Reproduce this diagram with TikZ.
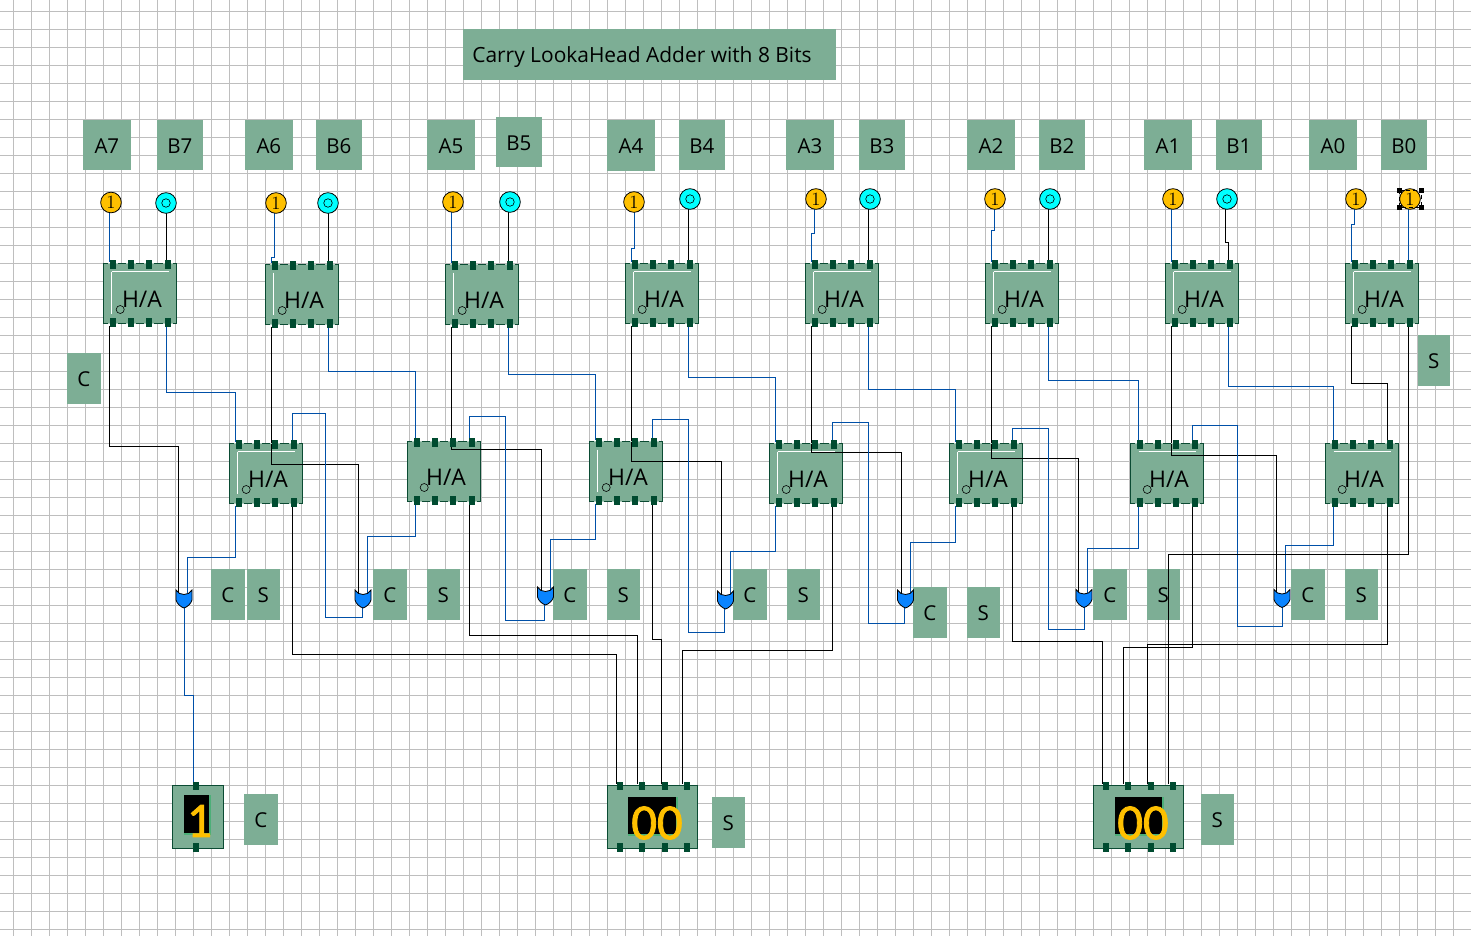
\documentclass[tikz,border=0pt]{standalone}
\usepackage{fontspec}
\newfontfamily\uifont{Open Sans}
\newfontfamily\digitfont[FakeBold=1.6]{Carlito}
\pgfdeclarelayer{bg}\pgfdeclarelayer{box}\pgfdeclarelayer{front}
\pgfsetlayers{bg,box,main,front}
\definecolor{boxgreen}{HTML}{7DAE95}
\definecolor{edgegreen}{HTML}{0B4B33}
\definecolor{pingreen}{HTML}{004B30}
\definecolor{wireblue}{HTML}{0050A8}
\definecolor{gridgrey}{HTML}{BEBEBE}
\definecolor{amber}{HTML}{FFC000}
\definecolor{aqua}{HTML}{00FFFF}
\definecolor{gateblue}{HTML}{0A84FF}
\definecolor{scrgreen}{HTML}{4CAF78}
\tikzset{
  kw/.style={draw=black,line width=0.9pt,line join=miter},
  bw/.style={draw=wireblue,line width=0.9pt,line join=miter},
  pinbox/.style={fill=pingreen,draw=none},
  inA/.style={circle,draw=black,fill=amber,line width=0.6pt,minimum size=15.5pt,inner sep=0pt,font=\fontsize{14pt}{14pt}\selectfont},
  inB/.style={circle,draw=black,fill=aqua,line width=0.6pt,minimum size=15.5pt,inner sep=0pt},
  lblbox/.style={fill=boxgreen,inner sep=0pt},
  lbltxt/.style={inner sep=0pt,text=black,font=\uifont\fontsize{15.4pt}{16pt}\selectfont},
}
% half adder: name, x, y, left white line, top white line, offset of left wire
\newcommand{\hadd}[6]{%
 \begin{pgfonlayer}{box}
  \node[draw=edgegreen,fill=boxgreen,line width=0.7pt,minimum width=54.75pt,minimum height=45pt,inner sep=0pt] (#1) at ({#2+36.5},{#3+30}) {};
  \ifnum#4=1 \draw[white,line width=0.7pt] ({#2+8},{#3+8}) -- ({#2+8},{#3+50});\fi
  \ifnum#5=1 \draw[white,line width=0.7pt] ({#2+8},{#3+8}) -- ({#2+65},{#3+8});\fi
  \node[font=\uifont\fontsize{17.2pt}{18pt}\selectfont,text=black,inner sep=0pt] (#1-txt) at ({#2+38.5},{#3+36}) {H/A};
  \draw[black,line width=0.45pt] ({#2+16.7},{#3+46}) circle[radius=3pt];
 \end{pgfonlayer}
 \begin{pgfonlayer}{front}
  \foreach \d in {6,24,42,61}{
   \fill[boxgreen!60!white] ({#2+\d-2},{#3-0.7}) rectangle ++(10.5,1.4);
   \fill[boxgreen!60!white] ({#2+\d-2},{#3+59.3}) rectangle ++(10.5,1.4);
   \fill[pinbox] ({#2+\d},{#3-3.5}) rectangle ++(6.5,9);
   \fill[pinbox] ({#2+\d},{#3+54.5}) rectangle ++(6.5,9);
  }
 \end{pgfonlayer}
 \coordinate (#1-t1) at ({#2+#6},{#3-2});
 \coordinate (#1-t4) at ({#2+63},{#3-2});
 \coordinate (#1-b1) at ({#2+#6},{#3+62});
 \coordinate (#1-b4) at ({#2+63},{#3+62});
}
% OR gate: name, centre x, top y, input 1 x, input 2 x, output x
\newcommand{\orgate}[6]{%
 \begin{pgfonlayer}{front}
  \filldraw[fill=gateblue,draw=black,line width=0.6pt]
   ({#2-8},{#3}) .. controls ({#2-5},{#3+6}) and ({#2+5},{#3+6}) .. ({#2+8},{#3})
   -- ({#2+8},{#3+10}) .. controls ({#2+7},{#3+14}) and ({#2+3},{#3+17}) .. ({#2},{#3+18})
   .. controls ({#2-3},{#3+17}) and ({#2-7},{#3+14}) .. ({#2-8},{#3+10}) -- cycle;
 \end{pgfonlayer}
 \coordinate (#1-i1) at (#4,{#3+3});
 \coordinate (#1-i2) at (#5,{#3+3});
 \coordinate (#1-o) at (#6,{#3+17});
}
% display body: name, x1, y1, x2, y2
\newcommand{\dispbody}[5]{%
 \begin{pgfonlayer}{box}
  \node[draw=edgegreen,fill=boxgreen,line width=0.7pt,inner sep=0pt,minimum width={(#4-#2)*0.75pt},minimum height={(#5-#3)*0.75pt}] (#1) at ({(#2+#4)/2},{(#3+#5)/2}) {};
 \end{pgfonlayer}
}
\newcommand{\screen}[4]{%
 \begin{pgfonlayer}{box}
  \fill[scrgreen] (#1,#2) rectangle ({#3+2},{#4+2});
  \fill[black] (#1,#2) rectangle (#3,#4);
 \end{pgfonlayer}
}
\newcommand{\dpin}[3]{\begin{pgfonlayer}{front}\fill[pinbox] ({#1-3},#2) rectangle ({#1+3},#3);\end{pgfonlayer}}
% rectangular text label: name, x1, y1, x2, y2, text
\newcommand{\lab}[6]{%
 \begin{pgfonlayer}{bg}
  \node[lblbox,minimum width={(#4-#2)*0.75pt},minimum height={(#5-#3)*0.75pt}] (#1) at ({(#2+#4)/2},{(#3+#5)/2}) {};
  \node[lbltxt] (#1-txt) at ([xshift=-0.1pt,yshift=-0.6pt]#1.center) {#6};
 \end{pgfonlayer}
}
% vertical, horizontal at y, vertical
\newcommand{\zw}[4]{\draw[#1] (#2) -- (#2 |- 0,#3) -- (#4 |- 0,#3) -- (#4);}
% same, starting below an input node at a given x
\newcommand{\jw}[5]{\draw[#1] (#2 -| #3,0) -- (#3,#4) -- (#5 |- 0,#4) -- (#5);}
% input node: name, style, x, y, text
\newcommand{\inp}[5]{\begin{pgfonlayer}{front}\node[#2] (#1) at (#3,#4) {#5};\end{pgfonlayer}}
\newcommand{\ringmark}{\tikz\draw[black,line width=0.45pt] (0,0) circle[radius=3.2pt];}
\begin{document}
\begin{tikzpicture}[x=0.75pt,y=-0.75pt]
\useasboundingbox (0,0) rectangle (1471,936);
\begin{pgfonlayer}{bg}
 \fill[white] (0,0) rectangle (1471,936);
 \foreach \k in {0,...,81}{\draw[gridgrey,line width=0.85pt] ({13.5+18*\k},0) -- ({13.5+18*\k},936);}
 \foreach \k in {0,...,51}{\draw[gridgrey,line width=0.85pt] (0,{11.5+18*\k}) -- (1471,{11.5+18*\k});}
\end{pgfonlayer}
% title and labels
\begin{pgfonlayer}{bg}
 \node[lblbox,minimum width=279.75pt,minimum height=38.25pt] (title) at (649.5,54.5) {};
 \node[lbltxt,font=\uifont\fontsize{15.7pt}{16pt}\selectfont] (title-txt) at (642,57.5) {Carry LookaHead Adder with 8 Bits};
\end{pgfonlayer}
\lab{lA7}{83}{120}{131}{170}{A7}\lab{lB7}{157}{120}{203}{170}{B7}
\lab{lA6}{245}{120}{293}{170}{A6}\lab{lB6}{316}{120}{362}{170}{B6}
\lab{lA5}{427}{120}{475}{170}{A5}\lab{lB5}{496}{117}{542}{167}{B5}
\lab{lA4}{607}{120}{655}{171}{A4}\lab{lB4}{679}{120}{725}{170}{B4}
\lab{lA3}{786}{120}{834}{170}{A3}\lab{lB3}{859}{120}{905}{170}{B3}
\lab{lA2}{967}{120}{1015}{170}{A2}\lab{lB2}{1039}{120}{1085}{170}{B2}
\lab{lA1}{1144}{120}{1192}{170}{A1}\lab{lB1}{1216}{120}{1262}{170}{B1}
\lab{lA0}{1309}{120}{1357}{170}{A0}\lab{lB0}{1381}{120}{1427}{170}{B0}
\lab{cTop}{67}{353}{101}{404}{C}\lab{sTop}{1418}{335}{1450}{386}{S}
\lab{c7}{211}{569}{245}{620}{C}\lab{s7}{247}{569}{280}{620}{S}
\lab{c6}{373}{569}{407}{620}{C}\lab{s6}{427}{569}{460}{620}{S}
\lab{c5}{553}{569}{587}{620}{C}\lab{s5}{607}{569}{640}{620}{S}
\lab{c4}{733}{569}{767}{620}{C}\lab{s4}{787}{569}{820}{620}{S}
\lab{c3}{913}{587}{947}{638}{C}\lab{s3}{967}{587}{1000}{638}{S}
\lab{c2}{1093}{569}{1127}{620}{C}\lab{s2}{1147}{569}{1180}{620}{S}
\lab{c1}{1291}{569}{1325}{620}{C}\lab{s1}{1345}{569}{1378}{620}{S}
\lab{cOut}{244}{794}{278}{845}{C}\lab{sOutA}{712}{797}{745}{848}{S}\lab{sOutB}{1201}{794}{1234}{845}{S}
% half adders, top row
\hadd{h7}{103.5}{263.5}{1}{1}{6}
\hadd{h6}{265.5}{264.5}{1}{0}{6}
\hadd{h5}{445.5}{264.5}{1}{0}{6}
\hadd{h4}{625.5}{263.5}{1}{1}{6}
\hadd{h3}{805.5}{263.5}{1}{1}{6}
\hadd{h2}{985.5}{263.5}{1}{1}{6}
\hadd{h1}{1165.5}{263.5}{1}{1}{6}
\hadd{h0}{1345.5}{263.5}{1}{1}{6}
% half adders, lower row
\hadd{l7}{229.5}{443.5}{1}{1}{6}
\hadd{l6}{407.5}{441.5}{0}{0}{8}
\coordinate (l6-t4) at (469.5,439.5);\coordinate (l6-b4) at (469.5,503.5);
\hadd{l5}{589.5}{441.5}{1}{0}{6}
\hadd{l4}{769.5}{443.5}{1}{1}{6}
\hadd{l3}{949.5}{443.5}{1}{1}{6}
\hadd{l2}{1130.5}{443.5}{0}{1}{8}
\coordinate (l2-t4) at (1192.5,441.5);\coordinate (l2-b4) at (1192.5,505.5);
\hadd{l1}{1325.5}{443.5}{0}{1}{8}
\coordinate (l1-t4) at (1387.5,441.5);\coordinate (l1-b4) at (1387.5,505.5);
% gates
\orgate{g7}{184}{590}{178.5}{187.5}{184.5}
\orgate{g6}{363}{590}{358.5}{367.5}{362.5}
\orgate{g5}{545.5}{587}{541.5}{550.5}{544.5}
\orgate{g4}{725.5}{591}{721.5}{730.5}{724.5}
\orgate{g3}{905.5}{590}{901.5}{910.5}{904.5}
\orgate{g2}{1084}{589.5}{1078.5}{1087.5}{1084.5}
\orgate{g1}{1282}{589.5}{1276.5}{1285.5}{1282.5}
% displays
\dispbody{dc}{172.5}{785.5}{223.5}{848.5}
\screen{184}{795}{209}{833}
\dpin{195.7}{782}{790}\dpin{195.7}{843}{852}
\coordinate (dc-in) at (193.5,784);
\begin{pgfonlayer}{front}
 \node[font=\digitfont\fontsize{37pt}{37pt}\selectfont,text=amber,inner sep=0pt] (dcv) at (199.5,821) {1};
 \node[font=\digitfont\fontsize{38pt}{38pt}\selectfont,text=amber,inner sep=0pt] (dav) at (657,823) {00};
 \node[font=\digitfont\fontsize{38pt}{38pt}\selectfont,text=amber,inner sep=0pt] (dbv) at (1143,823) {00};
\end{pgfonlayer}
\dispbody{da}{607.5}{785.5}{697.5}{848.5}
\screen{628}{797}{676}{834}
\foreach \p in {619.7,641.7,664.7,687}{\dpin{\p}{782}{790}\dpin{\p}{843}{852}}
\coordinate (da-1) at (616.5,784);\coordinate (da-2) at (637.5,784);
\coordinate (da-3) at (661.5,784);\coordinate (da-4) at (682.5,784);
\dispbody{db}{1093.5}{785.5}{1183.5}{848.5}
\screen{1114.5}{797}{1162}{834}
\foreach \p in {1106,1128,1151,1173}{\dpin{\p}{782}{790}\dpin{\p}{843}{852}}
\coordinate (db-1) at (1102.5,784);\coordinate (db-2) at (1123.5,784);
\coordinate (db-3) at (1147.5,784);\coordinate (db-4) at (1168.5,784);
% inputs
\inp{a7}{inA}{111}{202.5}{1}\inp{b7}{inB}{166}{203}{\ringmark}
\inp{a6}{inA}{276}{203}{1}\inp{b6}{inB}{328}{203}{\ringmark}
\inp{a5}{inA}{453}{202}{1}\inp{b5}{inB}{510}{202}{\ringmark}
\inp{a4}{inA}{634}{202}{1}\inp{b4}{inB}{690}{199}{\ringmark}
\inp{a3}{inA}{816}{199}{1}\inp{b3}{inB}{870}{199}{\ringmark}
\inp{a2}{inA}{995}{199}{1}\inp{b2}{inB}{1050}{199}{\ringmark}
\inp{a1}{inA}{1173}{199}{1}\inp{b1}{inB}{1227}{199}{\ringmark}
\inp{a0}{inA}{1356}{199}{1}\inp{b0}{inA}{1410}{199}{1}
\begin{pgfonlayer}{front}
 \draw[black,densely dashed,line width=0.6pt] (1399,190) rectangle (1421,207);
 \foreach \cx/\cy in {1399/190,1421/190,1399/207,1421/207}{\fill[black] ({\cx-2.5},{\cy-2.5}) rectangle ++(5,5);}
\end{pgfonlayer}
% inputs to top row
\draw[bw] (a7 -| h7-t1) -- (h7-t1);
\draw[kw] (b7 -| h7-t4) -- (h7-t4);
\jw{bw}{a6}{274.5}{257.5}{h6-t1}
\draw[kw] (b6 -| h6-t4) -- (h6-t4);
\draw[bw] (a5 -| h5-t1) -- (h5-t1);
\draw[kw] (b5 -| h5-t4) -- (h5-t4);
\jw{bw}{a4}{634.5}{248.5}{h4-t1}
\draw[kw] (b4 -| h4-t4) -- (h4-t4);
\jw{bw}{a3}{814.5}{233.5}{h3-t1}
\draw[kw] (b3 -| h3-t4) -- (h3-t4);
\jw{bw}{a2}{994.5}{230.5}{h2-t1}
\draw[kw] (b2 -| h2-t4) -- (h2-t4);
\draw[bw] (a1 -| h1-t1) -- (h1-t1);
\jw{kw}{b1}{1225.5}{242.5}{h1-t4}
\jw{bw}{a0}{1354.5}{224.5}{h0-t1}
\draw[bw] (b0 -| h0-t4) -- (h0-t4);
% top row carry to gates
\zw{kw}{h7-b1}{446.5}{g7-i1}
\zw{kw}{h6-b1}{464.5}{g6-i1}
\zw{kw}{h5-b1}{449.5}{g5-i1}
\zw{kw}{h4-b1}{461.5}{g4-i1}
\zw{kw}{h3-b1}{452.5}{g3-i1}
\zw{kw}{h2-b1}{458.5}{g2-i1}
\zw{kw}{h1-b1}{455.5}{g1-i1}
% top row sum to lower row
\zw{bw}{h7-b4}{392.5}{l7-t1}
\zw{bw}{h6-b4}{371.5}{l6-t1}
\zw{bw}{h5-b4}{374.5}{l5-t1}
\zw{bw}{h4-b4}{377.5}{l4-t1}
\zw{bw}{h3-b4}{389.5}{l3-t1}
\zw{bw}{h2-b4}{380.5}{l2-t1}
\zw{bw}{h1-b4}{386.5}{l1-t1}
\zw{kw}{h0-b1}{383.5}{l1-t4}
% lower row carry to gates
\zw{bw}{l7-b1}{557.5}{g7-i2}
\zw{bw}{l6-b1}{536.5}{g6-i2}
\zw{bw}{l5-b1}{539.5}{g5-i2}
\zw{bw}{l4-b1}{551.5}{g4-i2}
\zw{bw}{l3-b1}{542.5}{g3-i2}
\zw{bw}{l2-b1}{548.5}{g2-i2}
\zw{bw}{l1-b1}{545.5}{g1-i2}
% gate outputs looping up to lower row
\draw[bw] (l7-t4) |- (325.5,413.5) -- (325.5,617.5) -| (g6-o);
\draw[bw] (l6-t4) |- (505.5,416.5) -- (505.5,620.5) -| (g5-o);
\draw[bw] (l5-t4) |- (688.5,419.5) -- (688.5,632.5) -| (g4-o);
\draw[bw] (l4-t4) |- (868.5,422.5) -- (868.5,623.5) -| (g3-o);
\draw[bw] (l3-t4) |- (1048.5,428.5) -- (1048.5,629.5) -| (g2-o);
\draw[bw] (l2-t4) |- (1237.5,425.5) -- (1237.5,626.5) -| (g1-o);
% carry out
\draw[bw] (g7-o) -- (g7-o |- 0,695.5) -- (dc-in |- 0,695.5) -- (dc-in);
% sums to displays
\zw{kw}{l7-b4}{654.5}{da-1}
\zw{kw}{l6-b4}{635.5}{da-2}
\zw{kw}{l5-b4}{639.5}{da-3}
\zw{kw}{l4-b4}{650.5}{da-4}
\zw{kw}{l3-b4}{641.5}{db-1}
\zw{kw}{l2-b4}{647.5}{db-2}
\zw{kw}{l1-b4}{644.5}{db-3}
\zw{kw}{h0-b4}{554.5}{db-4}
\end{tikzpicture}
\end{document}
